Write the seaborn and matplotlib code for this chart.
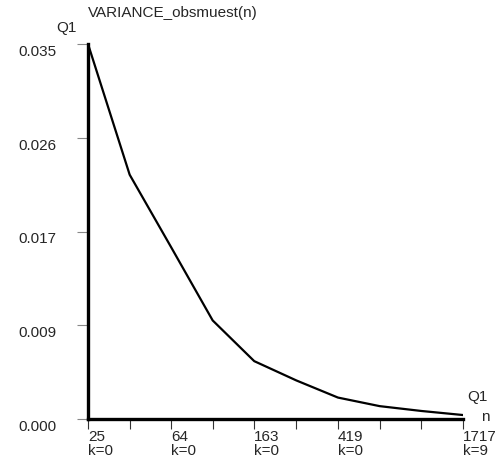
import matplotlib
matplotlib.use("Agg")
import matplotlib.pyplot as plt
import seaborn as sns
import numpy as np
import pandas as pd

# data
n_values = [25, 40, 64, 102, 163, 262, 419, 671, 1073, 1717]
variance = [0.0350, 0.0228, 0.0160, 0.0092, 0.0054, 0.0036, 0.0020, 0.0012, 0.00075, 0.00037]
major_ticks = [25, 64, 163, 419, 1717]
major_labels = ["25\nk=0", "64\nk=0", "163\nk=0", "419\nk=0", "1717\nk=9"]
minor_ticks = [40, 102, 262, 671, 1073]
y_ticks = [0.0, 0.00875, 0.0175, 0.02625, 0.035]
y_labels = ["0.000", "0.009", "0.017", "0.026", "0.035"]

sns.set_style("white")
plt.rcParams['font.family'] = ['Liberation Sans', 'DejaVu Sans']

FS = 11
fig = plt.figure(figsize=(5.0, 4.64), dpi=100)
W, H = 500, 464
ax = fig.add_axes([88 / W, 1 - 420 / H, (463 - 88) / W, (420 - 45) / H])

df = pd.DataFrame({"n": n_values, "var": variance})
sns.lineplot(data=df, x="n", y="var", ax=ax, color="black", linewidth=1.6)

ax.set_xscale("log")
ax.set_xlim(n_values[0], n_values[-1])
ax.set_ylim(0, 0.035)
ax.set_xlabel("")
ax.set_ylabel("")

ax.set_xticks(major_ticks)
ax.set_xticklabels(major_labels)
ax.set_xticks(minor_ticks, minor=True)
ax.xaxis.set_minor_formatter(matplotlib.ticker.NullFormatter())
for lbl in ax.get_xticklabels():
    lbl.set_horizontalalignment("left")
    lbl.set_linespacing(1.0)
ax.set_yticks(y_ticks)
ax.set_yticklabels(y_labels)
for lbl in ax.get_yticklabels():
    lbl.set_verticalalignment("top")

ax.tick_params(axis="x", which="both", direction="out", length=7.5, width=0.8,
               color="#333333", labelsize=FS, pad=0, bottom=True)
ax.tick_params(axis="y", which="major", direction="out", length=8, width=0.8,
               color="#888888", labelsize=FS, pad=15, left=True)

for side in ["top", "right"]:
    ax.spines[side].set_visible(False)
for side in ["left", "bottom"]:
    ax.spines[side].set_color("black")
    ax.spines[side].set_linewidth(2.4)

fig.text(88 / W, 1 - 12.5 / H, "VARIANCE_obsmuest(n)", ha="left", va="center", fontsize=FS)
fig.text(77 / W, 1 - 28 / H, "Q1", ha="right", va="center", fontsize=FS)
fig.text(467 / W, 1 - 397.5 / H, "Q1", ha="left", va="center", fontsize=FS)
fig.text(481 / W, 1 - 417 / H, "n", ha="left", va="center", fontsize=FS)

fig.savefig("out.png", dpi=100)
